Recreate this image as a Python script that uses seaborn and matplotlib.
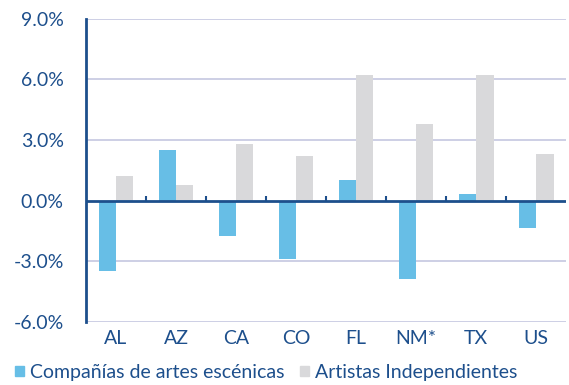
import numpy as np
import pandas as pd
import matplotlib
matplotlib.use("Agg")
import matplotlib.pyplot as plt
import seaborn as sns
from matplotlib.ticker import FuncFormatter
from matplotlib.patches import Patch

states = ["AL", "AZ", "CA", "CO", "FL", "NM*", "TX", "US"]
companias = [-3.5, 2.5, -1.75, -2.9, 1.0, -3.9, 0.35, -1.35]
artistas = [1.2, 0.8, 2.8, 2.2, 6.2, 3.8, 6.2, 2.3]
series_names = ["Compañías de artes escénicas", "Artistas Independientes"]

BLUE = "#67bee6"
GRAY = "#d9d9db"
NAVY = "#1d4f8c"
GRID = "#c9cce3"

sns.set_theme(style="white")
plt.rcParams["font.family"] = ["Lato", "DejaVu Sans"]

df = pd.DataFrame({
    "state": states * 2,
    "value": companias + artistas,
    "serie": [series_names[0]] * len(states) + [series_names[1]] * len(states),
})

fig = plt.figure(figsize=(5.69, 3.85), dpi=100)
ax = fig.add_axes([0.151, 0.164, 0.844, 0.787])

sns.barplot(data=df, x="state", y="value", hue="serie",
            palette=[BLUE, GRAY], width=0.58, gap=0, saturation=1,
            linewidth=0, legend=False, ax=ax)

ax.set_ylim(-6, 9)
ax.set_xlim(-0.5, len(states) - 0.5)
ax.set_yticks([-6, -3, 0, 3, 6, 9])
ax.yaxis.set_major_formatter(FuncFormatter(lambda v, _: f"{v:.1f}%"))
for y in [-6, -3, 3, 6, 9]:
    ax.axhline(y, color=GRID, lw=1.3, zorder=0)
ax.axhline(0, color=NAVY, lw=2, zorder=3)
# small separators between categories on the zero line
ax.vlines(np.arange(0.5, len(states) - 0.5), 0, 0.22, color=NAVY, lw=1.5, zorder=3)

for s in ["top", "right", "bottom"]:
    ax.spines[s].set_visible(False)
ax.spines["left"].set_color(NAVY)
ax.spines["left"].set_linewidth(2)

ax.set_xlabel("")
ax.set_ylabel("")
ax.tick_params(axis="y", length=5, width=2, color=NAVY, pad=11,
               labelsize=14, labelcolor=NAVY)
ax.tick_params(axis="x", length=0, pad=6, labelsize=14, labelcolor=NAVY)

handles = [Patch(color=BLUE), Patch(color=GRAY)]
fig.legend(handles, series_names, loc="center", ncol=2,
           bbox_to_anchor=(0.468, 0.033), frameon=False, fontsize=14,
           labelcolor=NAVY, handlelength=0.45, handleheight=0.45,
           handletextpad=0.3, columnspacing=0.8, borderpad=0)

fig.savefig("out.png", dpi=100)
